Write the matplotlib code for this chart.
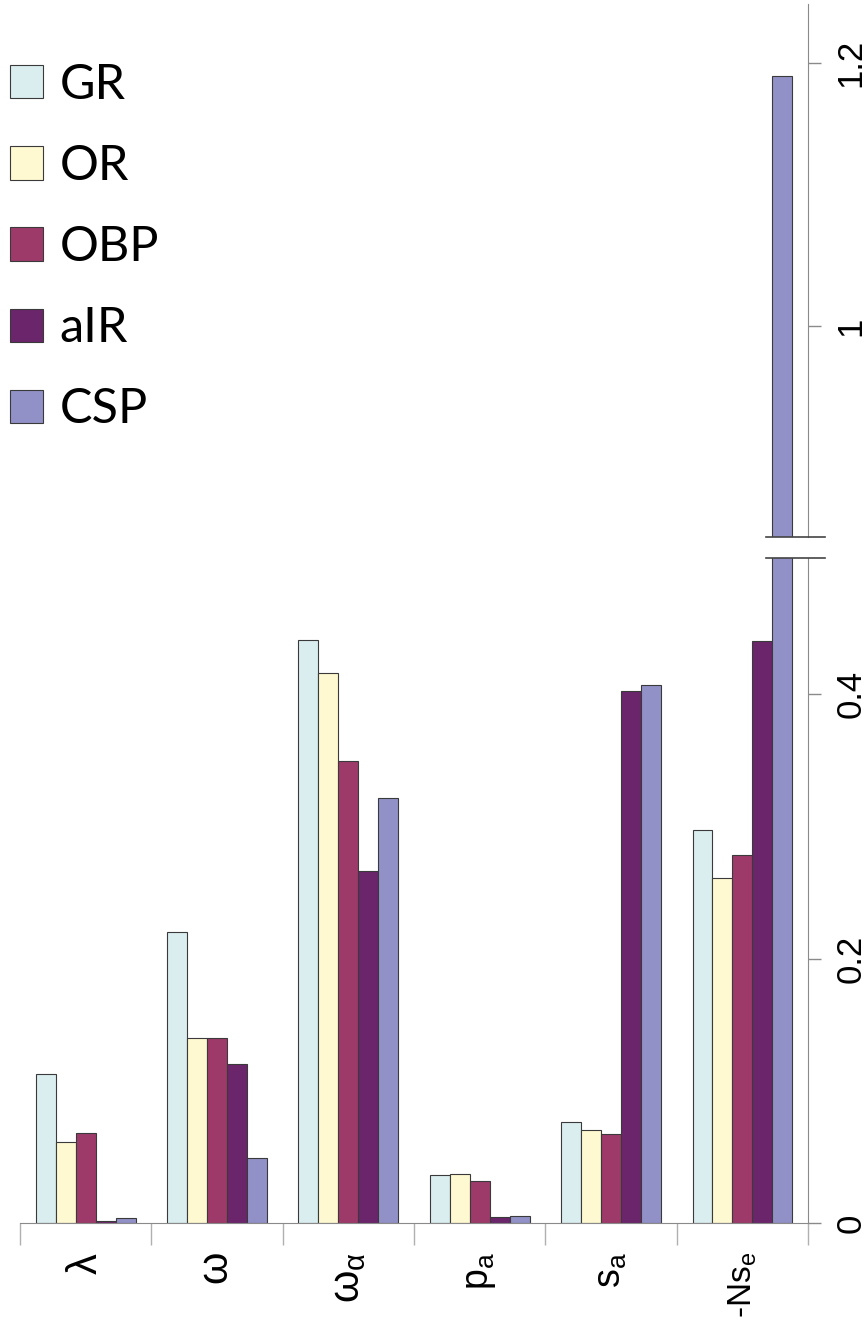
import numpy as np
import matplotlib.pyplot as plt
from matplotlib.patches import Patch
from matplotlib.lines import Line2D

# parameters (x axis) and methods (bar series)
params = [r"$\lambda$", r"$\omega$", r"$\omega_\alpha$", r"$p_a$", r"$s_a$", r"-N$s_e$"]
label_sizes = [30, 30, 30, 27, 27, 24]
methods = ["GR", "OR", "OBP", "aIR", "CSP"]

gr = [0.113, 0.220, 0.441, 0.036, 0.076, 0.297]
orr = [0.061, 0.140, 0.416, 0.037, 0.070, 0.261]
obp = [0.068, 0.140, 0.349, 0.032, 0.067, 0.278]
air = [0.0015, 0.120, 0.266, 0.0045, 0.402, 0.440]
csp = [0.004, 0.049, 0.321, 0.0053, 0.407, 1.19]

colors = ["#daedef", "#fef9d0", "#9e3a6a", "#6b256b", "#9291c7"]

plt.rcParams["mathtext.fontset"] = "custom"
plt.rcParams["mathtext.rm"] = "Liberation Sans"
plt.rcParams["mathtext.it"] = "Liberation Sans"
plt.rcParams["mathtext.default"] = "regular"
plt.rcParams["font.family"] = ["Liberation Sans", "DejaVu Sans"]

fig = plt.figure(figsize=(8.68, 13.25), dpi=100)
ax_lo = fig.add_axes([0.023, 0.077, 0.908, 0.502])
ax_hi = fig.add_axes([0.023, 0.595, 0.908, 0.402], sharex=ax_lo)

x = np.arange(len(params))
w = 0.152
series = [gr, orr, obp, air, csp]
for ax in (ax_lo, ax_hi):
    for i, vals in enumerate(series):
        ax.bar(x + (i - 2) * w, vals, w, color=colors[i],
               edgecolor="#3a3a3a", linewidth=0.8)
    for s in ["top", "left"]:
        ax.spines[s].set_visible(False)
    ax.spines["right"].set_color("#8a8a8a")
    ax.spines["bottom"].set_color("#8a8a8a")
    ax.yaxis.tick_right()
    ax.tick_params(axis="y", direction="out", length=9, width=1,
                   color="#8a8a8a", labelsize=25, pad=10)

ax_lo.set_ylim(0, 0.503)
ax_lo.set_yticks([0, 0.2, 0.4])
ax_lo.set_yticklabels(["0", "0.2", "0.4"], rotation=90, va="center")
ax_hi.set_ylim(0.84, 1.245)
ax_hi.set_yticks([1.0, 1.2])
ax_hi.set_yticklabels(["1", "1.2"], rotation=90, va="center")
ax_hi.spines["bottom"].set_visible(False)
ax_hi.tick_params(axis="x", which="both", bottom=False, labelbottom=False)

ax_lo.set_xlim(-0.5, len(params) - 0.5)
ax_lo.set_xticks(np.arange(len(params) + 1) - 0.5)
ax_lo.set_xticklabels([])
ax_lo.set_xticks(x, minor=True)
ax_lo.set_xticklabels(params, minor=True, rotation=90)
for lab, fs in zip(ax_lo.get_xticklabels(minor=True), label_sizes):
    lab.set_fontsize(fs)
ax_lo.tick_params(axis="x", which="major", length=16, width=1, color="#b0b0b0")
ax_lo.tick_params(axis="x", which="minor", length=0, pad=21)

# axis break marks
for yb in (0.595, 0.579):
    fig.add_artist(Line2D([0.882, 0.95], [yb, yb], color="#444444", lw=1.2))

handles = [Patch(facecolor=c, edgecolor="#3a3a3a", linewidth=0.8) for c in colors]
fig.legend(handles, methods, loc="upper left", bbox_to_anchor=(0.0, 0.96),
           frameon=False, prop={"family": "Lato", "size": 35},
           handlelength=0.68, handleheight=0.68, handletextpad=0.35,
           labelspacing=0.765, borderaxespad=0, borderpad=0.2)

fig.savefig("out.png", dpi=100)
